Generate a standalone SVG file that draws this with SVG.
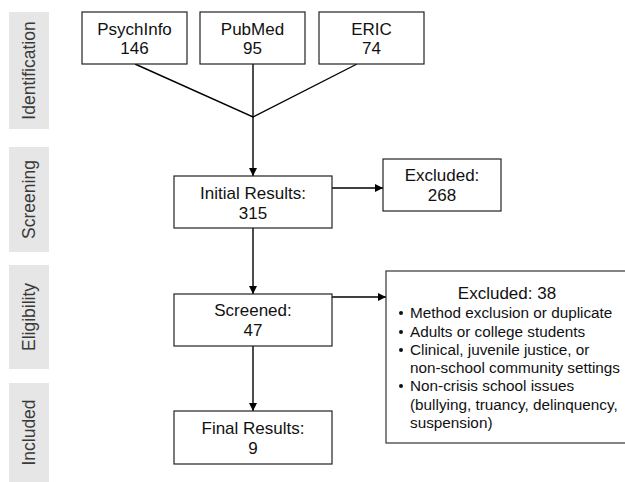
<svg xmlns="http://www.w3.org/2000/svg" width="625" height="482" viewBox="0 0 625 482">
<style>
.side{fill:#e6e6e6}
.sl{font-family:"Liberation Sans",Arial,sans-serif;font-size:17.5px;fill:#3a3a3a;text-anchor:middle}
.box{fill:#fff;stroke:#222;stroke-width:1.2}
.t{font-family:"Liberation Sans",Arial,sans-serif;font-size:17px;fill:#111;text-anchor:middle}
.b{font-family:"Liberation Sans",Arial,sans-serif;font-size:15.3px;fill:#111}
.c{stroke:#000;stroke-width:1.4;fill:none}
</style>
<defs>
<marker id="ah" markerWidth="8" markerHeight="8" refX="8" refY="4" orient="auto" markerUnits="userSpaceOnUse">
<path d="M0,0 L8,4 L0,8 Z" fill="#000"/>
</marker>
</defs>
<rect width="625" height="482" fill="#fff"/>
<g id="phases">
<rect class="side" x="9" y="12" width="40" height="117"/>
<text class="sl" transform="translate(35,70.5) rotate(-90)">Identification</text>
<rect class="side" x="9" y="147" width="40" height="105"/>
<text class="sl" transform="translate(35,199.5) rotate(-90)">Screening</text>
<rect class="side" x="9" y="265" width="40" height="104"/>
<text class="sl" transform="translate(35,317) rotate(-90)">Eligibility</text>
<rect class="side" x="9" y="383" width="40" height="99"/>
<text class="sl" transform="translate(35,432.5) rotate(-90)">Included</text>
</g>
<g id="connectors">
<polyline class="c" points="135,64 253,117 357,64"/>
<line class="c" x1="253" y1="64" x2="253" y2="117"/>
<line class="c" x1="253" y1="117" x2="253" y2="176" marker-end="url(#ah)"/>
<line class="c" x1="332" y1="188" x2="383" y2="188" marker-end="url(#ah)"/>
<line class="c" x1="253" y1="228" x2="253" y2="294" marker-end="url(#ah)"/>
<line class="c" x1="332" y1="297" x2="386" y2="297" marker-end="url(#ah)"/>
<line class="c" x1="253" y1="346" x2="253" y2="411" marker-end="url(#ah)"/>
</g>
<g id="psychinfo">
<rect class="box" x="82" y="12" width="105" height="52"/>
<text class="t" x="134.5" y="35">PsychInfo</text>
<text class="t" x="134.5" y="54">146</text>
</g>
<g id="pubmed">
<rect class="box" x="200" y="12" width="105" height="52"/>
<text class="t" x="252.5" y="35">PubMed</text>
<text class="t" x="252.5" y="54">95</text>
</g>
<g id="eric">
<rect class="box" x="319" y="12" width="105" height="52"/>
<text class="t" x="371.5" y="35">ERIC</text>
<text class="t" x="371.5" y="54">74</text>
</g>
<g id="initial">
<rect class="box" x="174" y="176" width="158" height="52"/>
<text class="t" x="253" y="199">Initial Results:</text>
<text class="t" x="253" y="219">315</text>
</g>
<g id="excluded1">
<rect class="box" x="383" y="159" width="118" height="52"/>
<text class="t" x="442" y="181">Excluded:</text>
<text class="t" x="442" y="201">268</text>
</g>
<g id="screened">
<rect class="box" x="174" y="294" width="158" height="52"/>
<text class="t" x="253" y="316">Screened:</text>
<text class="t" x="253" y="336">47</text>
</g>
<g id="excluded2">
<rect class="box" x="386" y="271" width="245" height="172" style="stroke:#333"/>
<text class="t" x="507" y="299">Excluded: 38</text>
<g class="b">
<circle cx="401" cy="313" r="2" fill="#111"/>
<text x="410" y="318">Method exclusion or duplicate</text>
<circle cx="401" cy="332" r="2" fill="#111"/>
<text x="410" y="337">Adults or college students</text>
<circle cx="401" cy="350" r="2" fill="#111"/>
<text x="410" y="355">Clinical, juvenile justice, or</text>
<text x="410" y="373">non-school community settings</text>
<circle cx="401" cy="386" r="2" fill="#111"/>
<text x="410" y="391">Non-crisis school issues</text>
<text x="410" y="410">(bullying, truancy, delinquency,</text>
<text x="410" y="428">suspension)</text>
</g>
</g>
<g id="final">
<rect class="box" x="174" y="411" width="158" height="53"/>
<text class="t" x="253" y="434">Final Results:</text>
<text class="t" x="253" y="454">9</text>
</g>
</svg>
